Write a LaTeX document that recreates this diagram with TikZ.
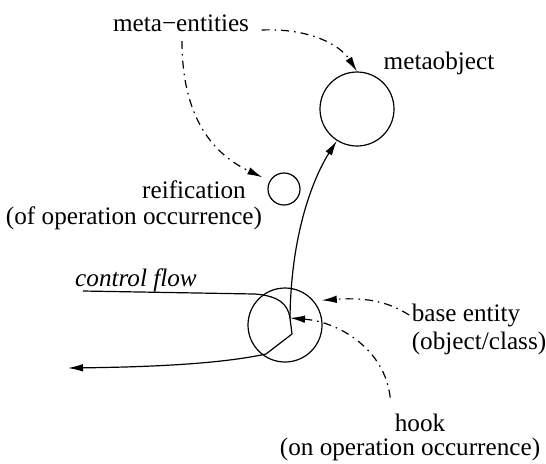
\documentclass[tikz,border=0pt]{standalone}
\usepackage{fontspec}
\setmainfont{LiberationSerif}[Extension=.ttf, UprightFont=*-Regular, ItalicFont=*-Italic, BoldFont=*-Bold]
\usetikzlibrary{arrows.meta}

\begin{document}
\begin{tikzpicture}[x=0.5pt, y=-0.5pt, line width=0.6pt, >={Latex[length=7.5pt,width=3.8pt]},
  every node/.style={font=\fontsize{12.6}{14}\selectfont, inner sep=0pt},
  blob/.style={draw, circle, inner sep=0pt},
  metaarr/.style={->, dash pattern=on 4pt off 2.5pt on 0.8pt off 2.5pt},
  flow/.style={line join=round}]
\useasboundingbox (0,0) rectangle (546,463);

% circles
\node[blob, minimum size=37pt] (mobj) at (357,109) {};
\node[blob, minimum size=16pt] (reifc) at (284,189) {};
\node[blob, minimum size=37pt] (basec) at (285,325) {};
\coordinate (hook) at (290,318);
\coordinate (cfin) at (83,291);
\coordinate (cfout) at (68,368);

% labels
\node (meta) at (181,23) {meta−entities};
\node (mobjlbl) at (439,63) {metaobject};
\node (reif) at (194,190) {reification};
\node (reifnote) at (134,218) {(of operation occurrence)};
\node (cflow) at (136,280) {\itshape control flow};
\node (baseent) at (466,315) {base entity};
\node (basenote) at (479,343) {(object/class)};
\node (hooktxt) at (420,423) {hook};
\node (hooknote) at (410,449) {(on operation occurrence)};

% meta level
\draw[metaarr] ([shift={(12,7)}]meta.east) .. controls (310,28) and (340,45) .. (mobj.north);
\draw[metaarr, shorten >=4pt] ([shift={(1,9)}]meta.south) .. controls (182,120) and (215,155) .. (reifc.150);
\draw[->] (hook) .. controls (291,230) and (315,175) .. (mobj);

% base level
\draw[metaarr, shorten >=4pt] ([shift={(-2,0)}]baseent.west) .. controls (390,303) and (370,297) .. (basec.40);
\draw[metaarr] ([shift={(-4,-16)}]hooktxt.north west) .. controls (385,350) and (340,322) .. (hook);
\draw[flow] (cfin) -- (255,294) .. controls (280,296) and (288,305) .. (hook);
\draw[flow, ->] (hook) -- (292,334) -- (266,354) .. controls (220,364) and (150,367) .. (cfout);
\end{tikzpicture}
\end{document}
